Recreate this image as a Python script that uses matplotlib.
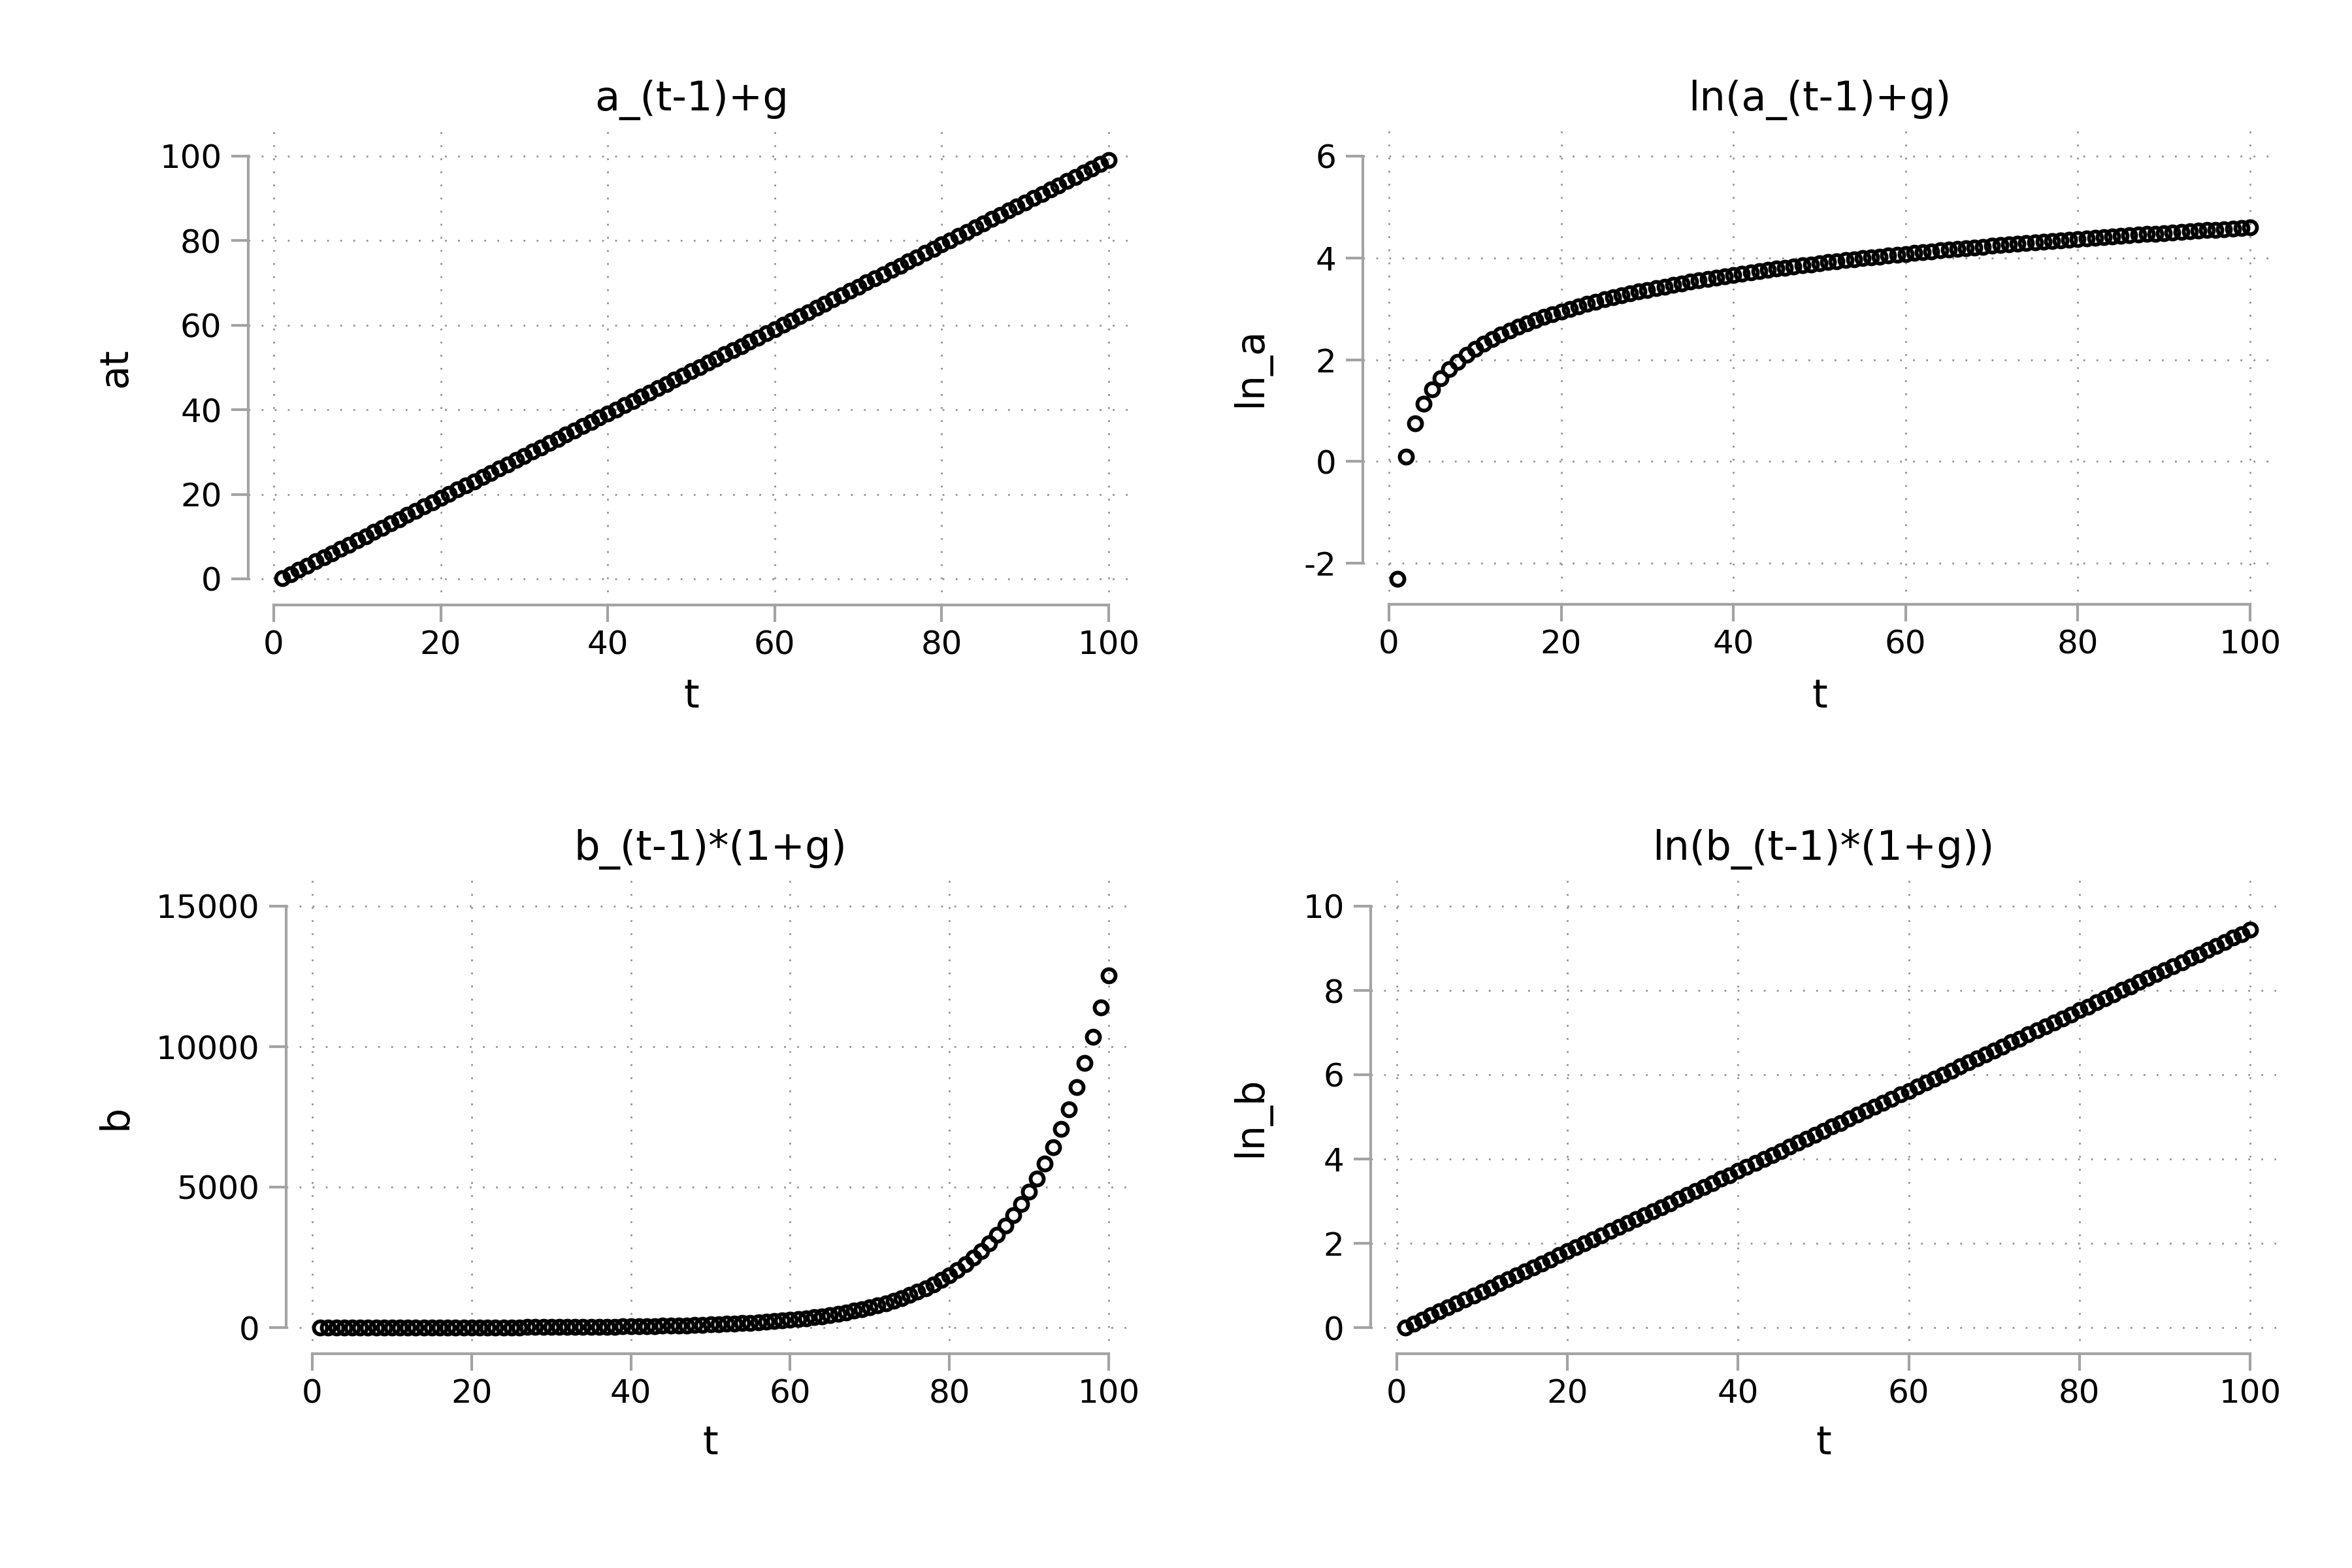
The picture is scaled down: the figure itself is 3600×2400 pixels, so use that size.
import matplotlib.pyplot as plt
from matplotlib.transforms import blended_transform_factory

# time index
t = [1, 2, 3, 4, 5, 6, 7, 8, 9, 10,
     11, 12, 13, 14, 15, 16, 17, 18, 19, 20,
     21, 22, 23, 24, 25, 26, 27, 28, 29, 30,
     31, 32, 33, 34, 35, 36, 37, 38, 39, 40,
     41, 42, 43, 44, 45, 46, 47, 48, 49, 50,
     51, 52, 53, 54, 55, 56, 57, 58, 59, 60,
     61, 62, 63, 64, 65, 66, 67, 68, 69, 70,
     71, 72, 73, 74, 75, 76, 77, 78, 79, 80,
     81, 82, 83, 84, 85, 86, 87, 88, 89, 90,
     91, 92, 93, 94, 95, 96, 97, 98, 99, 100]

# a_t = a_(t-1) + g
at = [0.1, 1.1, 2.1, 3.1, 4.1, 5.1, 6.1, 7.1, 8.1, 9.1,
      10.1, 11.1, 12.1, 13.1, 14.1, 15.1, 16.1, 17.1, 18.1, 19.1,
      20.1, 21.1, 22.1, 23.1, 24.1, 25.1, 26.1, 27.1, 28.1, 29.1,
      30.1, 31.1, 32.1, 33.1, 34.1, 35.1, 36.1, 37.1, 38.1, 39.1,
      40.1, 41.1, 42.1, 43.1, 44.1, 45.1, 46.1, 47.1, 48.1, 49.1,
      50.1, 51.1, 52.1, 53.1, 54.1, 55.1, 56.1, 57.1, 58.1, 59.1,
      60.1, 61.1, 62.1, 63.1, 64.1, 65.1, 66.1, 67.1, 68.1, 69.1,
      70.1, 71.1, 72.1, 73.1, 74.1, 75.1, 76.1, 77.1, 78.1, 79.1,
      80.1, 81.1, 82.1, 83.1, 84.1, 85.1, 86.1, 87.1, 88.1, 89.1,
      90.1, 91.1, 92.1, 93.1, 94.1, 95.1, 96.1, 97.1, 98.1, 99.1]

ln_a = [-2.303, 0.095, 0.742, 1.131, 1.411, 1.629, 1.808, 1.960, 2.092, 2.208,
        2.313, 2.407, 2.493, 2.573, 2.646, 2.715, 2.779, 2.839, 2.896, 2.950,
        3.001, 3.049, 3.096, 3.140, 3.182, 3.223, 3.262, 3.300, 3.336, 3.371,
        3.405, 3.437, 3.469, 3.500, 3.529, 3.558, 3.586, 3.614, 3.640, 3.666,
        3.691, 3.716, 3.740, 3.764, 3.786, 3.809, 3.831, 3.852, 3.873, 3.894,
        3.914, 3.934, 3.953, 3.972, 3.991, 4.009, 4.027, 4.045, 4.062, 4.079,
        4.096, 4.113, 4.129, 4.145, 4.160, 4.176, 4.191, 4.206, 4.221, 4.236,
        4.250, 4.264, 4.278, 4.292, 4.305, 4.319, 4.332, 4.345, 4.358, 4.371,
        4.383, 4.396, 4.408, 4.420, 4.432, 4.444, 4.456, 4.467, 4.478, 4.490,
        4.501, 4.512, 4.523, 4.533, 4.544, 4.555, 4.565, 4.576, 4.586, 4.596]

# b_t = b_(t-1) * (1 + g)
b = [1.0, 1.1, 1.2, 1.3, 1.5, 1.6, 1.8, 1.9, 2.1, 2.4,
     2.6, 2.9, 3.1, 3.5, 3.8, 4.2, 4.6, 5.1, 5.6, 6.1,
     6.7, 7.4, 8.1, 9.0, 9.8, 10.8, 11.9, 13.1, 14.4, 15.9,
     17.4, 19.2, 21.1, 23.2, 25.5, 28.1, 30.9, 34.0, 37.4, 41.1,
     45.3, 49.8, 54.8, 60.2, 66.3, 72.9, 80.2, 88.2, 97.0, 106.7,
     117.4, 129.1, 142.0, 156.2, 171.9, 189.1, 208.0, 228.8, 251.6, 276.8,
     304.5, 334.9, 368.4, 405.3, 445.8, 490.4, 539.4, 593.3, 652.7, 718.0,
     789.7, 868.7, 955.6, 1051.2, 1156.3, 1271.9, 1399.1, 1539.0, 1692.9, 1862.2,
     2048.4, 2253.2, 2478.6, 2726.4, 2999.1, 3299.0, 3628.9, 3991.8, 4390.9, 4830.0,
     5313.0, 5844.3, 6428.8, 7071.6, 7778.8, 8556.7, 9412.3, 10353.6, 11388.9, 12527.8]

ln_b = [0.00, 0.10, 0.19, 0.29, 0.38, 0.48, 0.57, 0.67, 0.76, 0.86,
        0.95, 1.05, 1.14, 1.24, 1.33, 1.43, 1.52, 1.62, 1.72, 1.81,
        1.91, 2.00, 2.10, 2.19, 2.29, 2.38, 2.48, 2.57, 2.67, 2.76,
        2.86, 2.95, 3.05, 3.15, 3.24, 3.34, 3.43, 3.53, 3.62, 3.72,
        3.81, 3.91, 4.00, 4.10, 4.19, 4.29, 4.38, 4.48, 4.57, 4.67,
        4.77, 4.86, 4.96, 5.05, 5.15, 5.24, 5.34, 5.43, 5.53, 5.62,
        5.72, 5.81, 5.91, 6.00, 6.10, 6.20, 6.29, 6.39, 6.48, 6.58,
        6.67, 6.77, 6.86, 6.96, 7.05, 7.15, 7.24, 7.34, 7.43, 7.53,
        7.62, 7.72, 7.82, 7.91, 8.01, 8.10, 8.20, 8.29, 8.39, 8.48,
        8.58, 8.67, 8.77, 8.86, 8.96, 9.05, 9.15, 9.25, 9.34, 9.44]

titles = ["a_(t-1)+g", "ln(a_(t-1)+g)", "b_(t-1)*(1+g)", "ln(b_(t-1)*(1+g))"]
ylabels = ["at", "ln_a", "b", "ln_b"]
xticks = [0, 20, 40, 60, 80, 100]
yticks = [[0, 20, 40, 60, 80, 100],
          [-2, 0, 2, 4, 6],
          [0, 5000, 10000, 15000],
          [0, 2, 4, 6, 8, 10]]
series = [at, ln_a, b, ln_b]

# layout in output pixels (3600 x 2400)
W, H = 3600, 2400
# box: left, right, top, bottom; xpx: pixel of x=0 and x=100; ypx: pixel of first/last y tick
layout = [
    dict(box=(380, 1737, 199, 926), xpx=(419, 1697), ypx=(886, 239),
         title_y=153, xlabel_y=1083, ylabel_x=193),
    dict(box=(2086, 3484, 199, 925), xpx=(2126, 3444), ypx=(862, 239),
         title_y=153, xlabel_y=1083, ylabel_x=1930),
    dict(box=(438, 1737, 1347, 2072), xpx=(478, 1697), ypx=(2032, 1387),
         title_y=1300, xlabel_y=2226, ylabel_x=193),
    dict(box=(2098, 3484, 1347, 2072), xpx=(2138, 3444), ypx=(2032, 1387),
         title_y=1300, xlabel_y=2226, ylabel_x=1930),
]

gray = '#a3a3a3'
plt.rcParams['axes.unicode_minus'] = False
plt.rcParams['font.family'] = 'DejaVu Sans'

fig = plt.figure(figsize=(12, 8), dpi=300)

for i in range(4):
    L = layout[i]
    left, right, top, bottom = L['box']
    ax = fig.add_axes([left / W, 1 - bottom / H, (right - left) / W, (bottom - top) / H])

    # limits so that tick values land on the measured pixels
    x0, x100 = L['xpx']
    kx = (x100 - x0) / 100.0
    ax.set_xlim((left - x0) / kx, (right - x0) / kx)
    ylo, yhi = yticks[i][0], yticks[i][-1]
    plo, phi = L['ypx']
    ky = (plo - phi) / (yhi - ylo)
    ax.set_ylim(ylo - (bottom - plo) / ky, yhi + (phi - top) / ky)

    ax.plot(t, series[i], linestyle='none', marker='o', markersize=4.8,
            markerfacecolor='none', markeredgecolor='black', markeredgewidth=1.4,
            clip_on=False, zorder=3)

    ax.set_xticks(xticks)
    ax.set_yticks(yticks[i])
    ax.set_xticklabels([str(v) for v in xticks])
    ax.set_yticklabels([str(v) for v in yticks[i]])

    for side in ['top', 'right']:
        ax.spines[side].set_visible(False)
    for side in ['left', 'bottom']:
        ax.spines[side].set_color(gray)
        ax.spines[side].set_linewidth(1.0)
    ax.spines['bottom'].set_bounds(0, 100)
    ax.spines['left'].set_bounds(ylo, yhi)

    ax.tick_params(direction='out', length=6.2, width=1.0, color=gray,
                   labelsize=12, labelcolor='black')
    ax.tick_params(axis='x', pad=2.8)
    ax.tick_params(axis='y', pad=3.5)

    ax.grid(True, color='#8f8f8f', linewidth=0.65, linestyle=(0, (1, 6.4)))
    ax.set_axisbelow(True)

    ax.set_title(titles[i], fontsize=15, va='center',
                 y=1 + (top - L['title_y']) / (bottom - top), pad=0)

    ax.set_xlabel("t", fontsize=14.5)
    ax.xaxis.label.set_va('baseline')
    ax.xaxis.set_label_coords(0.5, 1 - L['xlabel_y'] / H,
                              transform=blended_transform_factory(ax.transAxes, fig.transFigure))

    ax.set_ylabel(ylabels[i], fontsize=14.5)
    ax.yaxis.label.set_va('baseline')
    ax.yaxis.set_label_coords(L['ylabel_x'] / W, 0.5,
                              transform=blended_transform_factory(fig.transFigure, ax.transAxes))

fig.savefig('out.png', dpi=300)
